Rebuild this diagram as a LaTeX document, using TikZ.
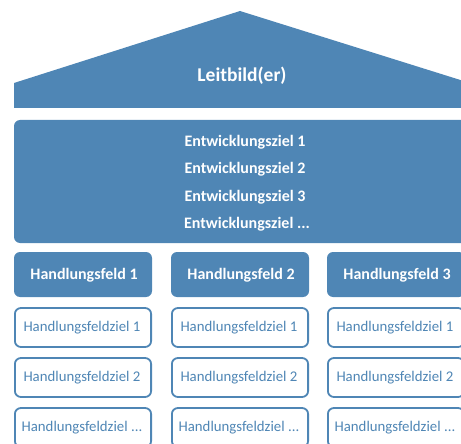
\documentclass[tikz,border=0pt]{standalone}
\usepackage{fontspec}
\setmainfont{Carlito}
\definecolor{hblue}{HTML}{4F86B5}
\begin{document}
\begin{tikzpicture}[x=1pt,y=-1pt,
  filled/.style={fill=hblue,draw=none,rounded corners=6pt},
  outlined/.style={fill=white,draw=hblue,line width=1.8pt,rounded corners=6pt},
  wtext/.style={text=white,font=\bfseries\fontsize{16}{19}\selectfont},
  btext/.style={text=hblue,font=\fontsize{14.8}{17}\selectfont}]
\useasboundingbox (0,0) rectangle (461,444);
\begin{scope}
\clip (0,0) rectangle (461,444);
% roof
\fill[hblue] (14,83) -- (240,11) -- (470,83) -- (470,108) -- (14,108) -- cycle;
\node[text=white,font=\bfseries\fontsize{19.5}{22}\selectfont] (leit) at (242,76) {Leitbild(er)};
% Entwicklungsziele
\fill[filled] (14,120) rectangle (475,243);
\node[wtext] (ez1) at (245,142) {Entwicklungsziel 1};
\node[wtext] (ez2) at (245,169.5) {Entwicklungsziel 2};
\node[wtext] (ez3) at (245,197) {Entwicklungsziel 3};
\node[wtext] (ez4) at (247,224.5) {Entwicklungsziel ...};
% Handlungsfelder
\foreach \i/\x in {1/14,2/171,3/327}{
  \fill[filled] (\x,252) rectangle (\x+138,297);
  \node[wtext] (hf\i) at (\x+70,275.5) {Handlungsfeld \i};
  \draw[outlined] (\x+0.9,308) rectangle (\x+137.1,347);
  \node[btext] (hz\i a) at (\x+68,327.5) {Handlungsfeldziel 1};
  \draw[outlined] (\x+0.9,358) rectangle (\x+137.1,397);
  \node[btext] (hz\i b) at (\x+68,377.5) {Handlungsfeldziel 2};
  \draw[outlined] (\x+0.9,408) rectangle (\x+137.1,447);
  \node[btext] (hz\i c) at (\x+68,427.5) {Handlungsfeldziel ...};
}
\end{scope}
\end{tikzpicture}
\end{document}
